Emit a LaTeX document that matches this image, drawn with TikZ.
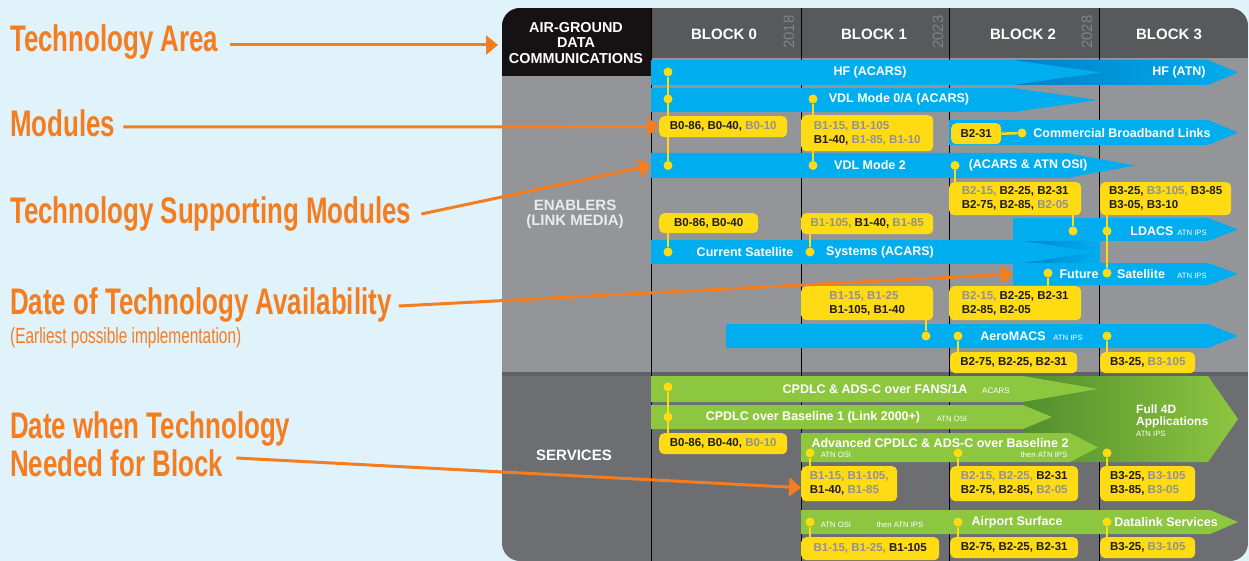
\documentclass[tikz,border=0pt]{standalone}
\usepackage{fontspec}
\setmainfont{Liberation Sans}
\newfontfamily\cond{Liberation Sans}[FakeStretch=0.70]
\usetikzlibrary{arrows.meta}
\pgfdeclarelayer{bars}
\pgfdeclarelayer{links}
\pgfsetlayers{bars,links,main}
\definecolor{bgc}{RGB}{224,242,250}
\definecolor{blu}{RGB}{0,174,239}
\definecolor{blud}{RGB}{0,128,200}
\definecolor{grn}{RGB}{141,198,63}
\definecolor{grnd}{RGB}{82,142,45}
\definecolor{yel}{RGB}{255,219,20}
\definecolor{gtxt}{RGB}{145,145,145}
\definecolor{ytxt}{RGB}{30,27,28}
\definecolor{gridg}{RGB}{147,149,152}
\definecolor{svc}{RGB}{109,110,113}
\definecolor{sepc}{RGB}{96,97,100}
\definecolor{hdr}{RGB}{88,89,91}
\definecolor{blk}{RGB}{22,18,19}
\definecolor{yrc}{RGB}{128,130,133}
\definecolor{org}{RGB}{244,125,32}
\newcommand\grayt[1]{\textcolor{gtxt}{#1}}
\newcommand\arrbar[6]{\fill[#1] (#2,#3) -- (#4,#3) -- (#5,{(#3+#6)/2}) -- (#4,#6) -- (#2,#6) -- cycle;}
\newcommand\ybox[6]{\node[modbox, minimum width=#4pt, minimum height=#5pt] (#1) at (#2,#3) {#6};}
\begin{document}
\begin{tikzpicture}[x=1pt,y=-1pt,
  barlbl/.style={text=white, font=\bfseries\fontsize{12.5}{14}\selectfont, inner sep=0},
  small/.style={text=white, font=\fontsize{7.7}{9}\selectfont, inner sep=0},
  modbox/.style={fill=yel, rounded corners=5pt, text=ytxt, font=\bfseries\fontsize{11.5}{14}\selectfont, align=left, inner sep=0, anchor=north west},
  dot/.style={circle, fill=yel, inner sep=0, minimum size=9pt},
  yline/.style={draw=yel, line width=2.5pt},
  oarr/.style={draw=org, line width=3pt, -{Triangle[length=12pt,width=19pt]}},
  olbl/.style={text=org, font=\cond\bfseries\fontsize{37}{38}\selectfont, anchor=base west, inner sep=0},
  osub/.style={text=org, font=\cond\fontsize{22}{24}\selectfont, anchor=base west, inner sep=0},
  hdrtxt/.style={text=white, font=\bfseries\fontsize{15}{15}\selectfont, inner sep=0},
  yrtxt/.style={text=yrc, font=\fontsize{15}{15}\selectfont, rotate=90, inner sep=0},
  colline/.style={draw=black, line width=1pt}]
\useasboundingbox (0,0) rectangle (1249,561);

\begin{pgfonlayer}{bars}
\fill[bgc] (0,0) rectangle (1249,561);
\begin{scope}
  \clip[rounded corners=18pt] (502,8) rectangle (1248,561);
  \fill[gridg] (502,8) rectangle (1248,372);
  \fill[svc] (502,372) rectangle (1248,561);
  \fill[sepc] (502,372) rectangle (1248,376);
  \fill[hdr] (651,8) rectangle (1248,58);
  \fill[blk] (502,8) rectangle (651,76);
\end{scope}
\foreach \cx in {651,801,949,1099} \draw[colline] (\cx,8) -- (\cx,561);

% header
\node[inner sep=0, minimum width=149pt, minimum height=68pt, anchor=north west] (agbox) at (502,8) {};
\node[hdrtxt, align=center, font=\bfseries\fontsize{14.4}{15.5}\selectfont] (agtxt) at (576,43) {AIR-GROUND\\DATA\\COMMUNICATIONS};
\node[hdrtxt] (blk0) at (724,34) {BLOCK 0};
\node[hdrtxt] (blk1) at (874,34) {BLOCK 1};
\node[hdrtxt] (blk2) at (1023,34) {BLOCK 2};
\node[hdrtxt] (blk3) at (1169,34) {BLOCK 3};
\node[yrtxt] (y18) at (789,32) {2018};
\node[yrtxt] (y23) at (938,32) {2023};
\node[yrtxt] (y28) at (1087,32) {2028};
\node[hdrtxt, align=center, text={black!8}] (enab) at (575,214) {ENABLERS\\(LINK MEDIA)};
\node[hdrtxt] (serv) at (574,455) {SERVICES};

% blue bars
\shade[left color=blud, right color=blu] (1013,60) -- (1208,60) -- (1238,72.5) -- (1208,85) -- (1013,85) -- cycle;
\arrbar{blu}{651}{60}{1013}{1100}{85}
\arrbar{blu}{651}{88}{1013}{1098}{112}
\arrbar{blu}{949}{120}{1208}{1238}{145}
\arrbar{blu}{651}{153}{1067}{1135}{178}
\shade[left color=blud, right color=blu] (1013,240) rectangle (1100,264);
\arrbar{blu}{1013}{218}{1208}{1238}{241}
\arrbar{blu}{1013}{263}{1208}{1238}{285}
\arrbar{blu}{651}{240}{1017}{1093}{264}
\arrbar{blu}{726}{324}{1208}{1238}{348}
\coordinate (vdl2w) at (651,165.5);
\coordinate (futw) at (1013,274);

% green bars
\shade[left color=grnd, right color=grn] (1023,376) -- (1208,376) -- (1238,419) -- (1208,462) -- (1023,462) -- cycle;
\arrbar{grn}{651}{376}{1023}{1098}{402}
\arrbar{grn}{651}{405}{1023}{1052}{429}
\arrbar{grn}{801}{433}{1070}{1098}{462}
\arrbar{grn}{801}{510}{1210}{1238}{534}

% bar labels
\node[barlbl] (thfa) at (870,72) {HF (ACARS)};
\node[barlbl] (thfn) at (1179,72) {HF (ATN)};
\node[barlbl] (tvdl0) at (899,99) {VDL Mode 0/A (ACARS)};
\node[barlbl] (tcbl) at (1122,133) {Commercial Broadband Links};
\node[barlbl] (tvdl2) at (870,165) {VDL Mode 2};
\node[barlbl] (tvdl2b) at (1028,165) {(ACARS \& ATN OSI)};
\node[barlbl] (tcs1) at (745,252) {Current Satellite};
\node[barlbl] (tcs2) at (880,252) {Systems (ACARS)};
\node[barlbl] (tld) at (1152,231) {LDACS};
\node[small] (tldi) at (1192,232.5) {ATN IPS};
\node[barlbl] (tfs1) at (1079,274) {Future};
\node[barlbl] (tfs2) at (1141,274) {Satellite};
\node[small] (tfsi) at (1192,275.5) {ATN IPS};
\node[barlbl] (tam) at (1013,336) {AeroMACS};
\node[small] (tami) at (1068,337.5) {ATN IPS};
\node[barlbl] (tfans) at (875,389) {CPDLC \& ADS-C over FANS/1A};
\node[small, font=\fontsize{8}{9}\selectfont] (tfansi) at (996,390.5) {ACARS};
\node[barlbl] (tbl1) at (813,417) {CPDLC over Baseline 1 (Link 2000+)};
\node[small] (tbl1i) at (952,418.5) {ATN OSI};
\node[barlbl] (tadv) at (940,443) {Advanced CPDLC \& ADS-C over Baseline 2};
\node[small] (tadvi) at (836,455) {ATN OSI};
\node[small] (tadvj) at (1044,455) {then ATN IPS};
\node[barlbl, anchor=base west, font=\bfseries\fontsize{12}{12}\selectfont] (tf4a) at (1136,413.5) {Full 4D};
\node[barlbl, anchor=base west, font=\bfseries\fontsize{12}{12}\selectfont] (tf4b) at (1136,425) {Applications};
\node[small, anchor=base west] (tf4i) at (1136,436.5) {ATN IPS};
\node[small] (tapi) at (836,525) {ATN OSI};
\node[small] (tapj) at (900,525) {then ATN IPS};
\node[barlbl] (tap) at (1017,522) {Airport Surface};
\node[barlbl] (tdls) at (1166,522) {Datalink Services};
\end{pgfonlayer}

% module boxes
\ybox{b0vdl}{659}{116}{128}{21}{B0-86, B0-40, \grayt{B0-10}}
\ybox{b1vdl}{801}{115}{132}{36}{\grayt{B1-15, B1-105}\\B1-40, \grayt{B1-85, B1-10}}
\ybox{b231}{951}{123}{50}{21}{B2-31}
\ybox{b2vdl}{949}{182}{132}{33}{\grayt{B2-15,} B2-25, B2-31\\B2-75, B2-85, \grayt{B2-05}}
\ybox{b3vdl}{1100}{182}{131}{33}{B3-25, \grayt{B3-105,} B3-85\\B3-05, B3-10}
\ybox{b0sat}{659}{213}{99}{20}{B0-86, B0-40}
\ybox{b1sat}{801}{213}{132}{21}{\grayt{B1-105,} B1-40, \grayt{B1-85}}
\ybox{b1aero}{801}{286}{132}{34}{\grayt{B1-15, B1-25}\\B1-105, B1-40}
\ybox{b2fut}{949}{286}{132}{34}{\grayt{B2-15,} B2-25, B2-31\\B2-85, B2-05}
\ybox{b2aero}{950}{352}{127}{21}{B2-75, B2-25, B2-31}
\ybox{b3aero}{1100}{352}{95}{21}{B3-25, \grayt{B3-105}}
\ybox{b0svc}{659}{433}{128}{21}{B0-86, B0-40, \grayt{B0-10}}
\ybox{b1adv}{801}{466}{96}{35}{\grayt{B1-15, B1-105,}\\B1-40, \grayt{B1-85}}
\ybox{b2adv}{950}{466}{128}{35}{\grayt{B2-15, B2-25,} B2-31\\B2-75, B2-85, \grayt{B2-05}}
\ybox{b3adv}{1100}{466}{95}{35}{B3-25, \grayt{B3-105}\\B3-85, \grayt{B3-05}}
\ybox{b1ap}{801}{537}{138}{23}{\grayt{B1-15, B1-25,} B1-105}
\ybox{b2ap}{950}{537}{128}{21}{B2-75, B2-25, B2-31}
\ybox{b3ap}{1100}{537}{95}{21}{B3-25, \grayt{B3-105}}

% dots
\node[dot] (d1) at (668,72) {};
\node[dot] (d2) at (668,99) {};
\node[dot] (d3) at (668,165.5) {};
\node[dot] (d4) at (813,99) {};
\node[dot] (d5) at (813,165.5) {};
\node[dot] (d6) at (955,165.5) {};
\node[dot] (d7) at (1022,133) {};
\node[dot] (d8) at (1073,231) {};
\node[dot] (d9) at (1107,231) {};
\node[dot] (d10) at (1107,273) {};
\node[dot] (d11) at (668,252) {};
\node[dot] (d12) at (810,252) {};
\node[dot] (d13) at (1048,273) {};
\node[dot] (d14) at (926,336) {};
\node[dot] (d15) at (958,336) {};
\node[dot] (d16) at (1107,336) {};
\node[dot] (g1) at (668,387) {};
\node[dot] (g2) at (668,417) {};
\node[dot] (g3) at (810,453) {};
\node[dot] (g4) at (958,453) {};
\node[dot] (g5) at (1107,453) {};
\node[dot] (g6) at (810,522) {};
\node[dot] (g7) at (958,522) {};
\node[dot] (g8) at (1107,522) {};

\begin{pgfonlayer}{links}
\draw[yline] (d1) -- (d3);
\draw[yline] (d4) -- (d5);
\draw[yline] (d6) -- (d6 |- b2vdl.north);
\draw[yline] (b231.east) -- (d7);
\draw[yline] (d8) -- (d8 |- b2vdl.south);
\draw[yline] (d10) -- (d10 |- b3vdl.south);
\draw[yline] (d11) -- (d11 |- b0sat.south);
\draw[yline] (d12) -- (d12 |- b1sat.south);
\draw[yline] (d13) -- (d13 |- b2fut.north);
\draw[yline] (d14) -- (d14 |- b1aero.south);
\draw[yline] (d15) -- (d15 |- b2aero.north);
\draw[yline] (d16) -- (d16 |- b3aero.north);
\draw[yline] (g1) -- (g1 |- b0svc.north);
\draw[yline] (g3) -- (g3 |- b1adv.north);
\draw[yline] (g4) -- (g4 |- b2adv.north);
\draw[yline] (g5) -- (g5 |- b3adv.north);
\draw[yline] (g6) -- (g6 |- b1ap.north);
\draw[yline] (g7) -- (g7 |- b2ap.north);
\draw[yline] (g8) -- (g8 |- b3ap.north);
\end{pgfonlayer}

% annotations
\node[olbl] (lTA) at (10,52) {Technology Area};
\node[olbl] (lMod) at (10,137) {Modules};
\node[olbl] (lTSM) at (10,224) {Technology Supporting Modules};
\node[olbl] (lDoTA) at (10,314) {Date of Technology Availability};
\node[osub] (lEarl) at (10,343) {(Earliest possible implementation)};
\node[olbl] (lDw1) at (10,438) {Date when Technology};
\node[olbl] (lDw2) at (10,476) {Needed for Block};

\coordinate (sTA) at ([xshift=11pt,yshift=7pt]lTA.base east);
\coordinate (eTA) at (sTA -| agbox.west);
\coordinate (sMod) at ([xshift=8pt,yshift=10pt]lMod.base east);
\coordinate (sTSM) at ([xshift=10pt,yshift=10pt]lTSM.base east);
\coordinate (sDoTA) at ([xshift=7pt,yshift=8pt]lDoTA.base east);
\coordinate (sDw) at ([xshift=13pt,yshift=18pt]lDw2.base east);
\draw[oarr] (sTA) -- ([xshift=-4pt]eTA);
\draw[oarr] (sMod) -- (b0vdl.west);
\draw[oarr] (sTSM) -- (vdl2w);
\draw[oarr] (sDoTA) -- (futw);
\draw[oarr] (sDw) -- ([yshift=-4pt]b1adv.west);
\end{tikzpicture}
\end{document}
